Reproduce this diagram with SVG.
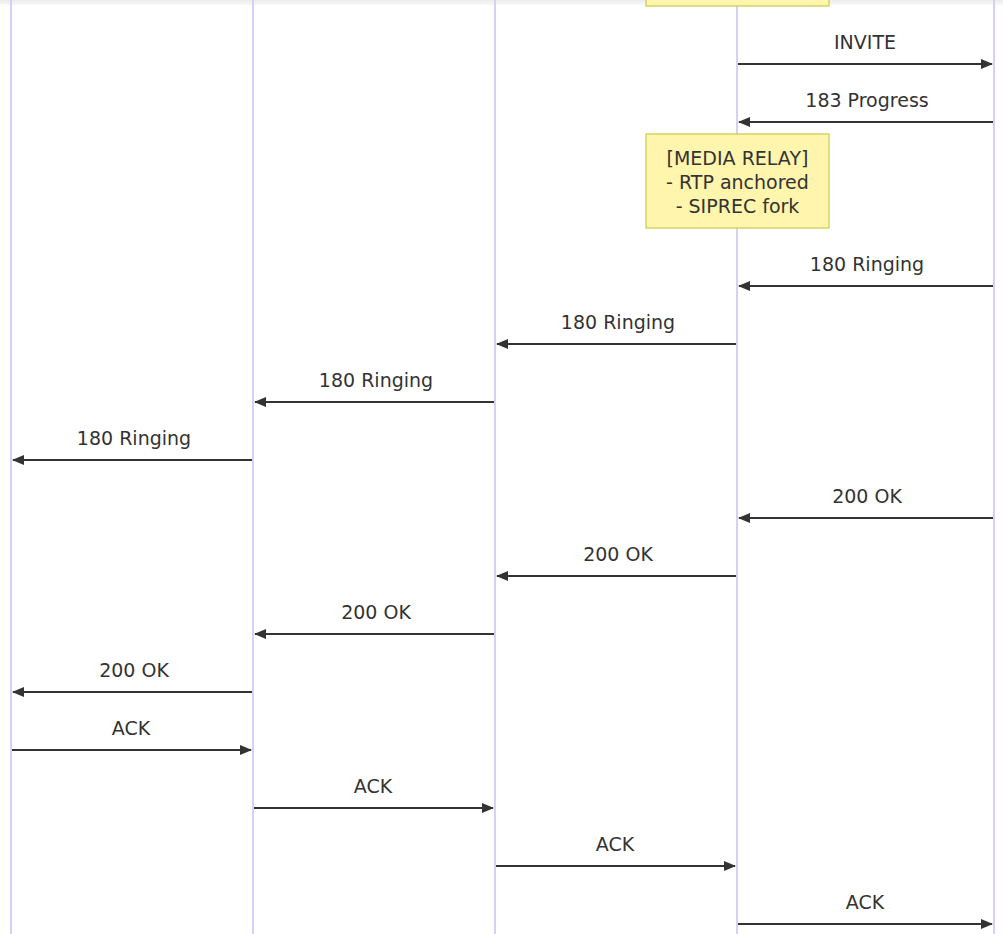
<svg xmlns="http://www.w3.org/2000/svg" width="1003" height="934" viewBox="0 0 1003 934">
<defs>
<style>
.life{stroke:#d9cff5;stroke-width:2;fill:none}
.msg{stroke:#333;stroke-width:2;fill:none}
.lbl{font-family:"DejaVu Sans",sans-serif;font-size:19px;fill:#333;text-anchor:middle}
.note{fill:#fff5ad;stroke:#cccc55;stroke-width:1.3}
.ntxt{font-family:"DejaVu Sans",sans-serif;font-size:19px;fill:#333;text-anchor:middle}
</style>
<marker id="ah" viewBox="0 0 12 10" refX="11" refY="5" markerWidth="12" markerHeight="10" markerUnits="userSpaceOnUse" orient="auto">
<path d="M0,0 L12,5 L0,10 z" fill="#333"/>
</marker>
<linearGradient id="topg" x1="0" y1="0" x2="0" y2="1">
<stop offset="0" stop-color="#ececec"/>
<stop offset="1" stop-color="#f8f8f8"/>
</linearGradient>
</defs>
<rect width="1003" height="934" fill="#fff"/>
<rect x="0" y="0" width="1003" height="5" fill="url(#topg)"/>
<g id="lifelines">
<line class="life" x1="11" y1="0" x2="11" y2="934"/>
<line class="life" x1="253" y1="0" x2="253" y2="934"/>
<line class="life" x1="495" y1="0" x2="495" y2="934"/>
<line class="life" x1="737" y1="0" x2="737" y2="934"/>
<line class="life" x1="994" y1="0" x2="994" y2="934"/>
</g>
<g id="note-top">
<rect class="note" x="646" y="-20" width="183" height="26"/>
</g>
<g id="note-media">
<rect class="note" x="646" y="134" width="183" height="94"/>
<text class="ntxt" x="737.5" y="165">[MEDIA RELAY]</text>
<text class="ntxt" x="737.5" y="189">- RTP anchored</text>
<text class="ntxt" x="737.5" y="213">- SIPREC fork</text>
</g>
<g id="connectors">
<line class="msg" x1="738" y1="64" x2="992" y2="64" marker-end="url(#ah)"/>
<line class="msg" x1="993" y1="122" x2="739" y2="122" marker-end="url(#ah)"/>
<line class="msg" x1="993" y1="286" x2="739" y2="286" marker-end="url(#ah)"/>
<line class="msg" x1="736" y1="344" x2="497" y2="344" marker-end="url(#ah)"/>
<line class="msg" x1="494" y1="402" x2="255" y2="402" marker-end="url(#ah)"/>
<line class="msg" x1="252" y1="460" x2="13" y2="460" marker-end="url(#ah)"/>
<line class="msg" x1="993" y1="518" x2="739" y2="518" marker-end="url(#ah)"/>
<line class="msg" x1="736" y1="576" x2="497" y2="576" marker-end="url(#ah)"/>
<line class="msg" x1="494" y1="634" x2="255" y2="634" marker-end="url(#ah)"/>
<line class="msg" x1="252" y1="692" x2="13" y2="692" marker-end="url(#ah)"/>
<line class="msg" x1="12" y1="750" x2="251" y2="750" marker-end="url(#ah)"/>
<line class="msg" x1="254" y1="808" x2="493" y2="808" marker-end="url(#ah)"/>
<line class="msg" x1="496" y1="866" x2="735" y2="866" marker-end="url(#ah)"/>
<line class="msg" x1="738" y1="924" x2="992" y2="924" marker-end="url(#ah)"/>
</g>
<g id="labels">
<text class="lbl" x="865" y="49">INVITE</text>
<text class="lbl" x="867" y="107">183 Progress</text>
<text class="lbl" x="867" y="271">180 Ringing</text>
<text class="lbl" x="618" y="329">180 Ringing</text>
<text class="lbl" x="376" y="387">180 Ringing</text>
<text class="lbl" x="134" y="445">180 Ringing</text>
<text class="lbl" x="867" y="503">200 OK</text>
<text class="lbl" x="618" y="561">200 OK</text>
<text class="lbl" x="376" y="619">200 OK</text>
<text class="lbl" x="134" y="677">200 OK</text>
<text class="lbl" x="131" y="735">ACK</text>
<text class="lbl" x="373" y="793">ACK</text>
<text class="lbl" x="615" y="851">ACK</text>
<text class="lbl" x="865" y="909">ACK</text>
</g>
</svg>
